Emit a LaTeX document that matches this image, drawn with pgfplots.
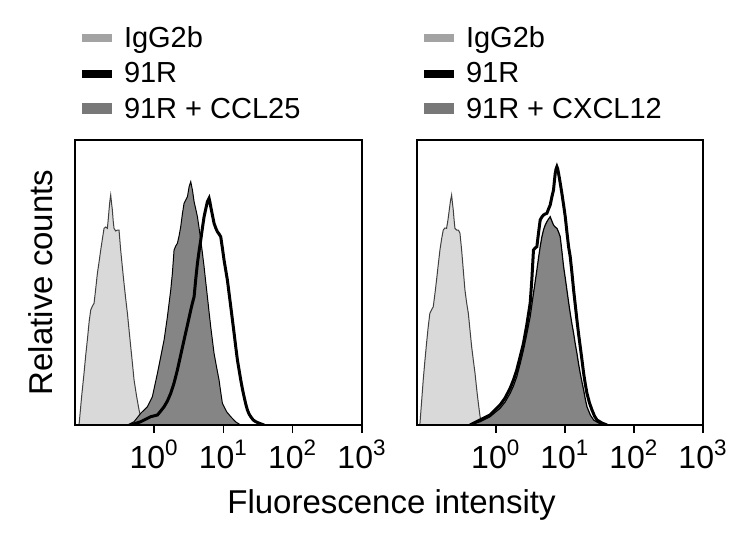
\documentclass[border=0pt]{standalone}
\usepackage{pgfplots}
\pgfplotsset{compat=1.18}
\usepackage{fontspec}
\setmainfont{Liberation Sans}
\definecolor{fillA}{gray}{0.85}
\definecolor{fillC}{gray}{0.52}
\definecolor{swA}{gray}{0.64}
\definecolor{swC}{gray}{0.47}
\definecolor{edgeA}{gray}{0.25}
\pgfplotsset{
  hist/.style={
    scale only axis, height=142.5pt,
    xmin=-1.14, xmax=3, ymin=0, ymax=285,
    ytick=\empty, xtick={0,1,2,3},
    xticklabels={10\textsuperscript{0},10\textsuperscript{1},10\textsuperscript{2},10\textsuperscript{3}},
    tick align=outside, major tick length=4pt, xtick pos=bottom,
    axis line style={line width=1pt},
    every tick/.style={line width=0.8pt, black},
    tick label style={font=\fontsize{16}{19}\selectfont},
    axis on top=true,
    legend style={at={(rel axis cs:0,1)}, anchor=south west, xshift=3.5pt, yshift=8pt,
      draw=none, fill=none, inner sep=0pt, outer sep=0pt,
      font=\fontsize{14.5}{16}\selectfont, row sep=4.25pt, column sep=6pt,
      nodes={inner sep=0pt, text height=10.5pt, text depth=3pt}},
    legend cell align=left,
  },
  swA/.style={legend image code/.code={\fill[swA,draw=none] (0pt,-1.4pt) rectangle (15pt,2.9pt);}},
  swB/.style={legend image code/.code={\fill[black,draw=none] (0pt,-1.25pt) rectangle (15pt,2.75pt);}},
  swC/.style={legend image code/.code={\fill[swC,draw=none] (0pt,-1.75pt) rectangle (15pt,3.75pt);}},
}
\begin{document}
\begin{tikzpicture}
\useasboundingbox (0,0) rectangle (372pt,274pt);
\begin{axis}[hist, width=143.5pt, at={(37.5pt,61.5pt)}, anchor=south west,
  ylabel={Relative counts},
  ylabel style={at={(axis description cs:-0.08,0.5)}, anchor=base, font=\fontsize{16.5}{19}\selectfont},
  xlabel={Fluorescence intensity},
  xlabel style={at={(axis description cs:1.1028,-0.3088)}, anchor=base, font=\fontsize{16.5}{19}\selectfont}]
\addlegendimage{swA}\addlegendentry{IgG2b}
\addlegendimage{swB}\addlegendentry{91R}
\addlegendimage{swC}\addlegendentry{91R + CCL25}
% IgG2b
\addplot[fill=fillA, draw=edgeA, line width=0.5pt, forget plot] coordinates {
(-1.082,0) (-1.045,28) (-1.010,51.7) (-0.985,70) (-0.962,85) (-0.935,104) (-0.913,115) (-0.888,119) (-0.865,121.7)
(-0.840,137) (-0.817,151.7) (-0.793,163) (-0.769,175) (-0.745,186) (-0.721,196.7) (-0.697,198) (-0.673,196.7)
(-0.660,206) (-0.649,215) (-0.637,224) (-0.625,230) (-0.613,222) (-0.601,215) (-0.589,204) (-0.577,196.7)
(-0.553,194) (-0.529,195) (-0.505,195) (-0.481,175) (-0.457,158) (-0.433,141.7) (-0.408,126) (-0.384,111.7)
(-0.360,95) (-0.336,78.3) (-0.312,62) (-0.288,45) (-0.252,29) (-0.216,15) (-0.180,5) (-0.144,0)} \closedcycle;
% 91R + CCL25
\addplot[fill=fillC, draw=black, line width=0.5pt, forget plot] coordinates {
(-0.384,0) (-0.288,3.3) (-0.192,11.7) (-0.096,18.3) (-0.024,28.3) (0.049,51.7) (0.097,68.3) (0.145,85)
(0.193,108.3) (0.241,135) (0.265,152) (0.289,175) (0.313,179) (0.337,181.7) (0.361,189) (0.385,198.3) (0.409,211)
(0.433,221.7) (0.458,225) (0.482,228.3) (0.506,238.3) (0.530,243.3) (0.554,235) (0.578,223.3) (0.602,216)
(0.626,208.3) (0.650,197) (0.674,185) (0.698,172) (0.722,158.3) (0.746,143) (0.770,128.3) (0.794,113)
(0.818,98.3) (0.842,85) (0.866,71.7) (0.902,58) (0.938,45) (0.962,33) (0.986,21.7) (1.050,13) (1.107,8.3) (1.180,3) (1.251,0)} \closedcycle;
% 91R
\addplot[draw=black, line width=1.5pt, forget plot] coordinates {
(-0.336,0) (-0.192,3.3) (-0.048,8.3) (0.049,10) (0.097,14) (0.145,18.3) (0.193,24) (0.241,31.7) (0.289,42)
(0.337,55) (0.385,70) (0.433,85) (0.482,100) (0.530,115) (0.554,122) (0.578,128.3) (0.602,146) (0.626,161.7)
(0.650,174) (0.674,185) (0.698,197) (0.722,208.3) (0.746,216) (0.770,223.3) (0.794,226.7) (0.806,223) (0.818,218.3)
(0.842,210) (0.866,201.7) (0.890,197) (0.914,193.3) (0.938,191) (0.962,188.3) (0.986,177) (1.010,165) (1.034,155)
(1.058,145) (1.082,132) (1.107,118.3) (1.131,105) (1.155,91.7) (1.179,78) (1.203,65) (1.227,55) (1.251,45)
(1.275,36) (1.299,28.3) (1.323,21) (1.347,15) (1.371,11) (1.395,8.3) (1.431,5) (1.467,3.3) (1.527,1.5) (1.587,0)};
\end{axis}
\begin{axis}[hist, width=143pt, at={(208.5pt,61.5pt)}, anchor=south west]
\addlegendimage{swA}\addlegendentry{IgG2b}
\addlegendimage{swB}\addlegendentry{91R}
\addlegendimage{swC}\addlegendentry{91R + CXCL12}
% IgG2b
\addplot[fill=fillA, draw=edgeA, line width=0.5pt, forget plot] coordinates {
(-1.099,0) (-1.075,22) (-1.050,45) (-1.026,64) (-1.002,81.7) (-0.978,98) (-0.954,111.7) (-0.930,115) (-0.905,118.3)
(-0.881,131) (-0.857,145) (-0.833,160) (-0.808,175) (-0.784,186) (-0.760,195) (-0.736,197) (-0.712,196.7)
(-0.692,205) (-0.673,215) (-0.656,224) (-0.639,230) (-0.627,222) (-0.615,215) (-0.603,205) (-0.591,196.7)
(-0.566,195) (-0.542,195) (-0.518,191.7) (-0.494,175) (-0.470,155) (-0.446,135) (-0.421,122) (-0.397,111.7)
(-0.373,95) (-0.349,78.3) (-0.325,65) (-0.300,51.7) (-0.276,36) (-0.252,21.7) (-0.228,9) (-0.204,0)} \closedcycle;
% 91R + CXCL12
\addplot[fill=fillC, draw=black, line width=0.6pt, forget plot] coordinates {
(-0.373,0) (-0.228,3.3) (-0.083,8.3) (0.062,16.7) (0.135,23) (0.208,31.7) (0.256,39) (0.304,48.3) (0.352,61)
(0.401,75) (0.449,91) (0.498,108.3) (0.522,120) (0.546,131.7) (0.570,143) (0.595,155) (0.619,167) (0.643,178.3)
(0.667,188) (0.691,195) (0.716,200) (0.740,203.3) (0.764,206) (0.788,208.3) (0.812,204) (0.836,200) (0.860,198)
(0.885,196.7) (0.909,193) (0.933,188.3) (0.957,174) (0.982,158.3) (1.006,147) (1.030,135) (1.054,123) (1.078,111.7)
(1.103,101) (1.127,91.7) (1.151,81) (1.175,71.7) (1.199,61) (1.223,51.7) (1.248,43) (1.272,35) (1.296,26)
(1.320,18.3) (1.369,10) (1.417,5) (1.490,2) (1.562,0)} \closedcycle;
% 91R
\addplot[draw=black, line width=1.5pt, forget plot] coordinates {
(-0.373,0) (-0.228,5) (-0.083,10) (0.062,20) (0.135,27) (0.208,36.7) (0.256,45) (0.304,55) (0.352,68)
(0.401,81.7) (0.449,100) (0.498,121.7) (0.522,145) (0.546,175) (0.570,177) (0.595,178.3) (0.619,192) (0.643,205)
(0.667,208) (0.691,210) (0.716,211) (0.740,211.7) (0.764,216) (0.788,220) (0.812,228) (0.836,235) (0.849,244)
(0.861,251.7) (0.873,256) (0.885,258.3) (0.897,256) (0.909,251.7) (0.933,242) (0.957,231.7) (0.982,220)
(1.006,208.3) (1.030,193) (1.054,178.3) (1.078,168.3) (1.103,152) (1.127,135) (1.151,120) (1.175,105) (1.199,91)
(1.223,78.3) (1.248,65) (1.272,51.7) (1.296,41) (1.320,31.7) (1.357,22) (1.393,15) (1.429,9) (1.465,5) (1.537,2) (1.610,0)};
\end{axis}
\end{tikzpicture}
\end{document}
